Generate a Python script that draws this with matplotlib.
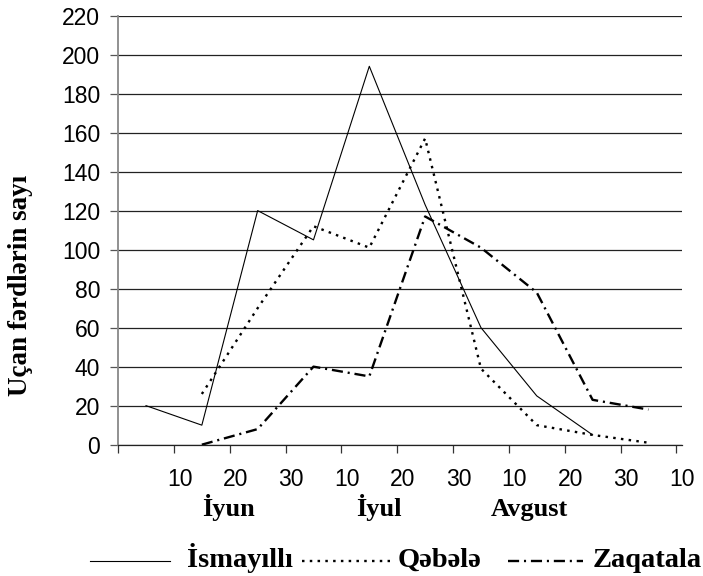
import numpy as np
import matplotlib.pyplot as plt
from matplotlib.lines import Line2D

plt.rcParams['lines.scale_dashes'] = False

# decade labels along the x axis and the month names under them
day_labels = ['10', '20', '30', '10', '20', '30', '10', '20', '30', '10']
months = ['İyun', 'İyul', 'Avgust']
month_pos = [1.97, 4.67, 7.37]

# counts per decade (category centres)
ismayilli = [20, 10, 120, 105, 194, 123, 60, 25, 5]
qabala = [26, 70, 112, 101, 157, 39, 10, 5, 1]
zaqatala = [0, 8, 40, 35, 117, 101, 78, 23, 18]

x_ism = np.arange(len(ismayilli)) + 0.5
x_qab = np.arange(len(qabala)) + 1.5
x_zaq = np.arange(len(zaqatala)) + 1.5

W, H = 703, 576
fig = plt.figure(figsize=(W / 100, H / 100), dpi=100)
ax = fig.add_axes([0.168, 0.228, 0.802, 0.745])

styles = {
    'solid': dict(color='black', lw=0.8, ls='-'),
    'dot': dict(color='black', lw=1.7, ls=(0, (1.8, 3.8))),
    'dashdot': dict(color='black', lw=1.7, ls=(0, (8, 3.5, 1.5, 3.5))),
}

ax.plot(x_ism, ismayilli, **styles['solid'])
ax.plot(x_qab, qabala, **styles['dot'])
ax.plot(x_zaq, zaqatala, **styles['dashdot'])

ax.set_xlim(0, 10)
ax.set_ylim(0, 220)
ax.set_yticks(np.arange(0, 221, 20))
ax.yaxis.grid(True, color='#222222', lw=0.9)
ax.set_axisbelow(True)

ax.set_xticks(np.arange(0, 11))
ax.set_xticklabels([])
ax.set_xticks(np.arange(1, 11) + 0.1, day_labels, minor=True)
ax.tick_params(axis='x', which='major', direction='out', length=6, width=0.9, color='#333333')
ax.tick_params(axis='x', which='minor', length=0, pad=17, labelsize=16.5)
ax.tick_params(axis='y', direction='out', length=6, width=0.9, color='#555555', labelsize=16.5, pad=7)
for lab in ax.get_xticklabels(minor=True) + ax.get_yticklabels():
    lab.set_family('Liberation Sans')

for s in ['top', 'right']:
    ax.spines[s].set_visible(False)
ax.spines['left'].set_color('#888888')
ax.spines['left'].set_linewidth(1.3)
ax.spines['bottom'].set_color('#222222')
ax.spines['bottom'].set_linewidth(0.9)

serif_bold = dict(family='Liberation Serif', fontweight='bold')

for m, p in zip(months, month_pos):
    ax.text(p, -0.167, m, transform=ax.get_xaxis_transform(), ha='center', va='baseline',
            fontsize=19, **serif_bold)

fig.text(21 / W, 1 - 285 / H, 'Uçan fərdlərin sayı', rotation=90, ha='center', va='center',
         fontsize=19.5, **serif_bold)

# legend laid out by hand to follow the original spacing
legend_items = [
    ('İsmayıllı', 'solid', 90, 170, 187),
    ('Qəbələ', 'dot', 302, 390, 398),
    ('Zaqatala', 'dashdot', 508, 583, 593),
]
for name, st, x0, x1, tx in legend_items:
    fig.add_artist(Line2D([x0 / W, x1 / W], [1 - 561 / H] * 2, transform=fig.transFigure, **styles[st]))
    fig.text(tx / W, 1 - 567 / H, name, ha='left', va='baseline', fontsize=20.5, **serif_bold)

fig.savefig('out.png', dpi=100)
